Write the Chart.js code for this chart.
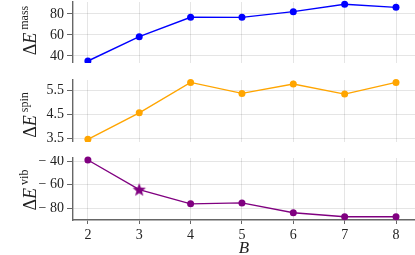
<!DOCTYPE html>
<html>
<head>
<meta charset="utf-8">
<script src="https://cdn.jsdelivr.net/npm/chart.js@4/dist/chart.umd.min.js"></script>
<style>
  html, body { margin: 0; padding: 0; background: #fff; }
  #wrap { position: relative; width: 415px; height: 255px; overflow: hidden; }
  .panel { position: absolute; left: 0; width: 415px; }
</style>
</head>
<body>
<div id="wrap">
  <div class="panel" style="top:0;height:63px"><canvas id="c-mass"></canvas></div>
  <div class="panel" style="top:78px;height:64px"><canvas id="c-spin"></canvas></div>
  <div class="panel" style="top:156px;height:99px"><canvas id="c-vib"></canvas></div>
</div>
<script>
// données
const bValues = [2, 3, 4, 5, 6, 7, 8];
const massValues = [35.2, 58.4, 76.9, 76.8, 82.2, 89.2, 86.3];
const spinValues = [3.47, 4.58, 5.85, 5.39, 5.78, 5.36, 5.85];
const vibValues = [-38.9, -64.2, -76.4, -75.6, -84.0, -87.4, -87.4];
const massTicks = [40, 60, 80];
const spinTicks = [3.5, 4.5, 5.5];
const vibTicks = [-80, -60, -40];
const xTicks = [2, 3, 4, 5, 6, 7, 8];
const starIndex = 1; // point marqué d'une étoile (B = 3)

const SERIF = "'Liberation Serif', 'DejaVu Serif', serif";
const GRID = 'rgba(0,0,0,0.1)';
const SPINE = '#666';

// étoile pleine pour le point spécial
function makeStar(color, r) {
    const c = document.createElement('canvas');
    const s = Math.ceil(r * 2 + 2);
    c.width = s; c.height = s;
    const g = c.getContext('2d');
    g.translate(s / 2, s / 2 + 0.5);
    g.beginPath();
    for (let i = 0; i < 10; i++) {
        const rad = i % 2 === 0 ? r : r * 0.42;
        const a = -Math.PI / 2 + i * Math.PI / 5;
        g.lineTo(rad * Math.cos(a), rad * Math.sin(a));
    }
    g.closePath();
    g.fillStyle = color;
    g.fill();
    return c;
}

// titre vertical ΔE^xxx dessiné à la main (exposant)
const yTitlePlugin = {
    id: 'yTitle',
    afterDraw(chart, args, opts) {
        const ctx = chart.ctx;
        const area = chart.chartArea;
        const cy = (area.top + area.bottom) / 2 + (opts.shift || 0);
        ctx.save();
        ctx.translate(36, cy);
        ctx.rotate(-Math.PI / 2);
        ctx.fillStyle = '#222';
        ctx.textBaseline = 'alphabetic';
        const bigUp = '18px ' + SERIF;
        const bigIt = 'italic 18px ' + SERIF;
        const small = '12px ' + SERIF;
        ctx.font = bigUp; const w1 = ctx.measureText('Δ').width;
        ctx.font = bigIt; const w2 = ctx.measureText('E').width;
        ctx.font = small; const w3 = ctx.measureText(opts.sup).width;
        const gap = 3;
        let x = -(w1 + w2 + gap + w3) / 2;
        ctx.font = bigUp; ctx.fillText('Δ', x, 0); x += w1;
        ctx.font = bigIt; ctx.fillText('E', x, 0); x += w2 + gap;
        ctx.font = small; ctx.fillText(opts.sup, x, -8);
        ctx.restore();
    }
};

function fmtTick(v) {
    if (v < 0) return '\u2212 ' + Math.abs(v);
    return String(v);
}

function noPad(s) {
    s.paddingTop = 0; s.paddingBottom = 0;
    s.paddingLeft = 0; s.paddingRight = 0;
}

function makePanel(id, values, yTicks, yMin, yMax, color, sup, isBottom, shift) {
    const pts = bValues.map((b, i) => ({ x: b, y: values[i] }));
    let styles = 'circle';
    let radii = 3.5;
    if (isBottom) {
        styles = bValues.map((b, i) => i === starIndex ? makeStar(color, 7) : 'circle');
        radii = bValues.map((b, i) => i === starIndex ? 7 : 3.5);
    }
    return new Chart(document.getElementById(id), {
        type: 'line',
        data: {
            datasets: [{
                data: pts,
                borderColor: color,
                backgroundColor: color,
                borderWidth: 1.4,
                pointStyle: styles,
                pointRadius: radii,
                pointBorderWidth: 0,
                pointBackgroundColor: color,
                tension: 0,
                clip: false
            }]
        },
        options: {
            responsive: true,
            maintainAspectRatio: false,
            animation: false,
            events: [],
            layout: { autoPadding: false, padding: { top: 2, right: 0, left: 0, bottom: 0 } },
            plugins: {
                legend: { display: false },
                tooltip: { enabled: false },
                yTitle: { sup: sup, shift: shift }
            },
            scales: {
                x: {
                    type: 'linear',
                    min: 1.71,
                    max: 8.37,
                    afterBuildTicks: s => { s.ticks = xTicks.map(v => ({ value: v })); },
                    afterFit: s => { s.height = isBottom ? 35 : 0; noPad(s); },
                    grid: {
                        color: GRID,
                        lineWidth: 1,
                        drawTicks: isBottom,
                        tickLength: 4,
                        tickColor: SPINE
                    },
                    border: { display: isBottom, color: SPINE, width: 1.6 },
                    ticks: {
                        display: isBottom,
                        color: '#222',
                        padding: 3,
                        maxRotation: 0,
                        font: { family: SERIF, size: 14 }
                    },
                    title: {
                        display: isBottom,
                        text: 'B',
                        color: '#222',
                        padding: { top: 0, bottom: 0 },
                        font: { family: SERIF, size: 17, style: 'italic', lineHeight: 0.8 }
                    }
                },
                y: {
                    min: yMin,
                    max: yMax,
                    afterBuildTicks: s => { s.ticks = yTicks.map(v => ({ value: v })); },
                    afterFit: s => { s.width = 73; noPad(s); },
                    grid: {
                        color: GRID,
                        lineWidth: 1,
                        drawTicks: true,
                        tickLength: 6,
                        tickColor: SPINE
                    },
                    border: { display: true, color: SPINE, width: 1.4 },
                    ticks: {
                        color: '#222',
                        padding: 3,
                        font: { family: SERIF, size: 14 },
                        callback: v => fmtTick(v)
                    }
                }
            }
        },
        plugins: [yTitlePlugin]
    });
}

makePanel('c-mass', massValues, massTicks, 33.3, 91.4, '#0000ff', 'mass', false, -2);
makePanel('c-spin', spinValues, spinTicks, 3.36, 5.95, '#ffa500', 'spin', false, 4);
makePanel('c-vib', vibValues, vibTicks, -90.2, -37.2, '#800080', 'vib', true, 1);
</script>
</body>
</html>
